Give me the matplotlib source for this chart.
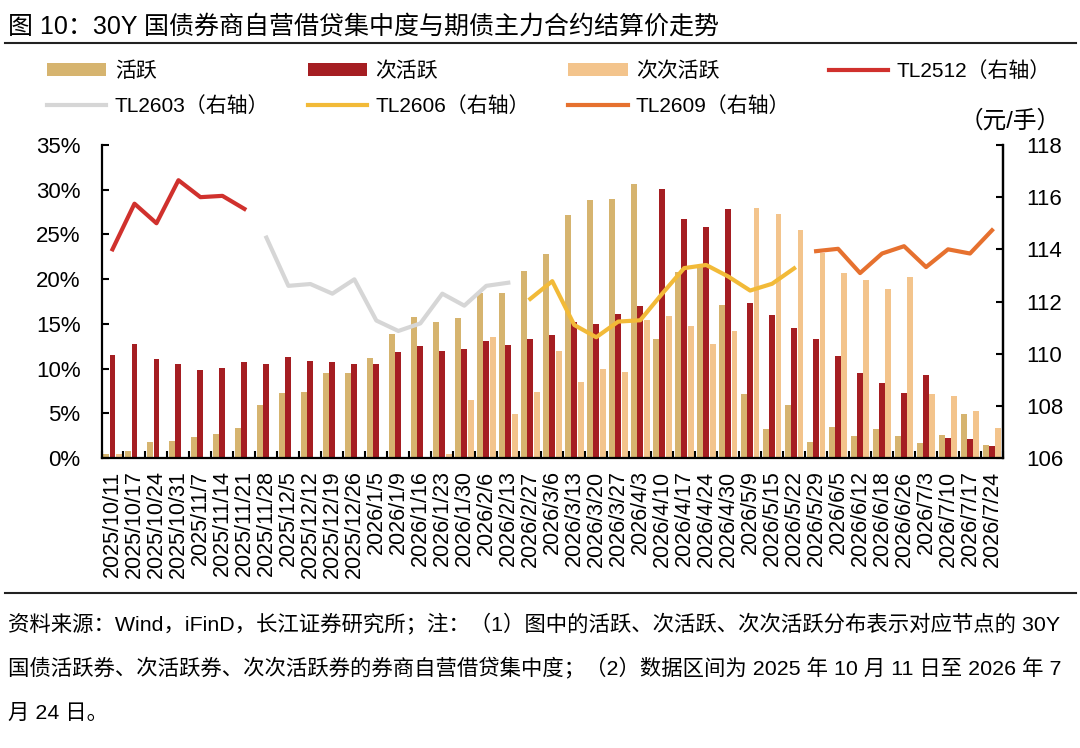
import numpy as np
import matplotlib.pyplot as plt
from matplotlib.ticker import FuncFormatter

plt.rcParams['font.family'] = ['Liberation Sans', 'Noto Sans CJK SC']
plt.rcParams['axes.unicode_minus'] = False

nan = np.nan

dates = ['2025/10/11', '2025/10/17', '2025/10/24', '2025/10/31', '2025/11/7',
         '2025/11/14', '2025/11/21', '2025/11/28', '2025/12/5', '2025/12/12',
         '2025/12/19', '2025/12/26', '2026/1/5', '2026/1/9', '2026/1/16',
         '2026/1/23', '2026/1/30', '2026/2/6', '2026/2/13', '2026/2/27',
         '2026/3/6', '2026/3/13', '2026/3/20', '2026/3/27', '2026/4/3',
         '2026/4/10', '2026/4/17', '2026/4/24', '2026/4/30', '2026/5/9',
         '2026/5/15', '2026/5/22', '2026/5/29', '2026/6/5', '2026/6/12',
         '2026/6/18', '2026/6/26', '2026/7/3', '2026/7/10', '2026/7/17',
         '2026/7/24']

# 借贷集中度 (%)
active = [0.5, 0.75, 1.75, 1.85, 2.4, 2.7, 3.3, 5.9, 7.25, 7.4,
          9.55, 9.45, 11.2, 13.85, 15.75, 15.2, 15.6, 18.4, 18.4, 20.9,
          22.8, 27.2, 28.85, 29.0, 30.6, 13.3, 20.8, 21.5, 17.1, 7.2,
          3.2, 5.9, 1.75, 3.5, 2.5, 3.25, 2.5, 1.7, 2.6, 4.9,
          1.5]
second = [11.5, 12.75, 11.1, 10.5, 9.85, 10.1, 10.7, 10.55, 11.25, 10.9,
          10.7, 10.5, 10.55, 11.85, 12.55, 11.95, 12.2, 13.1, 12.65, 13.3,
          13.75, 15.2, 15.0, 16.1, 17.0, 30.1, 26.7, 25.8, 27.8, 17.3,
          16.0, 14.5, 13.3, 11.4, 9.5, 8.4, 7.3, 9.3, 2.2, 2.1,
          1.3]
third = [0.4, 0.15, 0.1, 0.05, 0, 0, 0, 0, 0, 0,
         0, 0, 0, 0, 0, 0.5, 6.5, 13.55, 4.9, 7.35,
         11.95, 8.45, 9.9, 9.6, 15.4, 15.9, 14.8, 12.8, 14.15, 28.0,
         27.3, 25.5, 22.9, 20.7, 19.9, 18.9, 20.2, 7.2, 6.95, 5.3,
         3.4]

# 主力合约结算价 (元/手)
tl2512 = [114.0, 115.75, 115.0, 116.65, 116.0, 116.05, 115.55] + [nan] * 34
tl2603 = [nan] * 7 + [114.45, 112.6, 112.67, 112.3, 112.85, 111.27, 110.87,
                      111.16, 112.3, 111.84, 112.6, 112.72] + [nan] * 22
tl2606 = [nan] * 19 + [112.1, 112.78, 111.1, 110.63, 111.23, 111.28, 112.3,
                       113.28, 113.4, 112.96, 112.42, 112.68, 113.27] + [nan] * 9
tl2609 = [nan] * 32 + [113.93, 114.02, 113.09, 113.84, 114.12, 113.32, 114.0,
                       113.84, 114.73]

W, H = 1080, 748
fig = plt.figure(figsize=(W / 100, H / 100), dpi=100)

x = np.arange(len(dates))
ax = fig.add_axes([101.5 / W, 1 - 458 / H, (1003 - 101.5) / W, (458 - 145) / H])

bw = 0.27
b1 = ax.bar(x - 0.29, active, width=bw, color='#D6B46F', label='活跃')
b2 = ax.bar(x, second, width=bw, color='#A51E22', label='次活跃')
b3 = ax.bar(x + 0.29, third, width=bw, color='#F3C48C', label='次次活跃')

ax.set_xlim(-0.5, len(dates) - 0.5)
ax.set_ylim(0, 35)
ax.set_yticks(np.arange(0, 36, 5))
ax.yaxis.set_major_formatter(FuncFormatter(lambda v, p: f'{v:.0f}%'))
ax.set_xticks(x)
ax.set_xticklabels(dates, rotation=90, fontsize=15.5)
ax.set_xticks(np.arange(-0.5, len(dates), 1), minor=True)
ax.tick_params(axis='x', which='major', length=0, pad=9)
ax.tick_params(axis='x', which='minor', direction='in', length=5, width=1.5)
ax.tick_params(axis='y', direction='in', length=5, width=1.5, labelsize=16, pad=15)
ax.spines['top'].set_visible(False)
for s in ['left', 'bottom', 'right']:
    ax.spines[s].set_linewidth(1.6)

ax2 = ax.twinx()
l1, = ax2.plot(x, tl2512, color='#D0312D', lw=3, label='TL2512（右轴）')
l2, = ax2.plot(x, tl2603, color='#D6D6D6', lw=3, label='TL2603（右轴）')
l3, = ax2.plot(x, tl2606, color='#F2BA38', lw=3, label='TL2606（右轴）')
l4, = ax2.plot(x, tl2609, color='#E6712F', lw=3, label='TL2609（右轴）')
ax2.set_ylim(106, 118)
ax2.set_yticks(np.arange(106, 119, 2))
ax2.tick_params(axis='y', direction='in', length=5, width=1.5, labelsize=16, pad=17)
ax2.spines['top'].set_visible(False)
ax2.spines['right'].set_linewidth(1.6)
ax2.spines['left'].set_visible(False)
ax2.spines['bottom'].set_visible(False)

# legend: columns filled top-to-bottom
handles = [b1, l2, b2, l3, b3, l4, l1]
labels = [h.get_label() for h in handles]
fig.legend(handles, labels, loc='upper left', bbox_to_anchor=(47 / W, 1 - 61 / H),
           ncol=4, frameon=False, fontsize=15, borderpad=0, borderaxespad=0,
           handlelength=2.85, handleheight=0.55, handletextpad=0.4,
           columnspacing=1.85, labelspacing=0.72)

fig.text(1010 / W, 1 - 121 / H, '（元/手）', ha='center', va='center', fontsize=17)

# title and notes
fig.text(8 / W, 1 - 27 / H, '图 10：30Y 国债券商自营借贷集中度与期债主力合约结算价走势',
         ha='left', va='center', fontsize=18)
fig.add_artist(plt.Line2D([5 / W, 1076 / W], [1 - 43 / H, 1 - 43 / H], color='#222222', lw=1.5))
fig.add_artist(plt.Line2D([5 / W, 1076 / W], [1 - 593 / H, 1 - 593 / H], color='#222222', lw=1.5))

notes = ['资料来源：Wind，iFinD，长江证券研究所；注：（1）图中的活跃、次活跃、次次活跃分布表示对应节点的 30Y',
         '国债活跃券、次活跃券、次次活跃券的券商自营借贷集中度；（2）数据区间为 2025 年 10 月 11 日至 2026 年 7',
         '月 24 日。']
for i, line in enumerate(notes):
    fig.text(8 / W, 1 - (623 + 45 * i) / H, line, ha='left', va='center', fontsize=15.4)

fig.savefig('out.png', dpi=100)
